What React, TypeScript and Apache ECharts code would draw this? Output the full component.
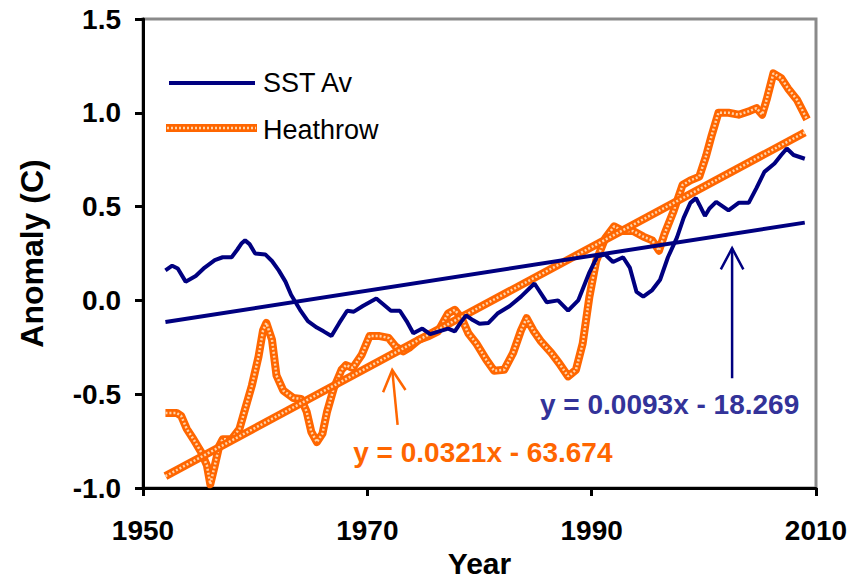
import React, { useEffect, useRef } from "react";
import * as echarts from "echarts";

// SST average anomaly (smoothed), decimal year / value in °C
const sstYears = [
  1952.0, 1952.6, 1953.1, 1953.8, 1954.7, 1955.5, 1956.4, 1957.1, 1957.9, 1958.4,
  1958.8, 1959.1, 1959.5, 1960.0, 1960.9, 1961.5, 1962.1, 1962.7, 1963.2, 1964.0,
  1964.7, 1965.5, 1966.1, 1966.8, 1967.5, 1968.2, 1968.8, 1969.6, 1970.8, 1971.6,
  1972.1, 1972.9, 1973.5, 1974.1, 1974.9, 1975.6, 1976.4, 1977.2, 1977.8, 1978.3,
  1978.8, 1979.4, 1980.0, 1980.8, 1981.6, 1982.7, 1983.7, 1984.9, 1986.0, 1987.0,
  1987.9, 1988.8, 1989.8, 1990.5, 1991.2, 1991.9, 1992.8, 1993.4, 1994.0, 1994.6,
  1995.4, 1996.1, 1996.8, 1997.6, 1998.2, 1998.8, 1999.3, 1999.6, 2000.1, 2000.5,
  2001.1, 2002.2, 2003.1, 2004.0, 2004.7, 2005.4, 2006.3, 2006.9, 2007.4, 2008.0,
  2009.0,
];
const sstValues = [
  0.16, 0.185, 0.17, 0.1, 0.13, 0.175, 0.215, 0.23, 0.23, 0.27,
  0.305, 0.32, 0.3, 0.25, 0.245, 0.21, 0.16, 0.1, 0.03, -0.05,
  -0.11, -0.145, -0.165, -0.19, -0.12, -0.055, -0.06, -0.03, 0.01, -0.03,
  -0.055, -0.055, -0.11, -0.175, -0.15, -0.18, -0.165, -0.15, -0.165, -0.12,
  -0.08, -0.105, -0.125, -0.12, -0.07, -0.03, 0.02, 0.09, -0.01, 0.0,
  -0.055, 0.0, 0.15, 0.235, 0.245, 0.205, 0.23, 0.175, 0.045, 0.02,
  0.055, 0.11, 0.23, 0.335, 0.44, 0.52, 0.545, 0.51, 0.45, 0.49,
  0.525, 0.48, 0.52, 0.52, 0.6, 0.685, 0.73, 0.775, 0.81, 0.775,
  0.755,
];

// Heathrow air temperature anomaly (smoothed)
const heathrowYears = [
  1952.0, 1953.0, 1953.4, 1953.9, 1954.5, 1955.2, 1955.7, 1956.0, 1956.4, 1956.8,
  1957.1, 1957.9, 1958.6, 1959.1, 1959.7, 1960.3, 1960.7, 1961.0, 1961.5, 1961.9,
  1962.5, 1963.4, 1964.1, 1964.6, 1965.0, 1965.5, 1966.0, 1966.4, 1967.0, 1967.7,
  1968.1, 1968.7, 1969.5, 1970.2, 1971.1, 1971.9, 1972.5, 1973.2, 1973.8, 1974.6,
  1975.5, 1976.3, 1977.2, 1977.8, 1978.4, 1979.0, 1979.7, 1980.6, 1981.3, 1982.2,
  1983.0, 1983.7, 1984.2, 1984.8, 1985.5, 1986.4, 1987.1, 1987.9, 1988.6, 1989.2,
  1989.8, 1990.4, 1991.2, 1992.0, 1992.8, 1993.7, 1994.6, 1995.4, 1996.0, 1996.5,
  1997.3, 1998.1, 1998.8, 1999.6, 2000.2, 2000.7, 2001.3, 2002.2, 2003.1, 2004.1,
  2004.7, 2005.2, 2005.6, 2006.2, 2006.9, 2007.5, 2008.3, 2009.2,
];
const heathrowValues = [
  -0.6, -0.6, -0.615, -0.685, -0.74, -0.81, -0.88, -0.98, -0.88, -0.775,
  -0.74, -0.74, -0.685, -0.58, -0.455, -0.3, -0.16, -0.12, -0.21, -0.4,
  -0.48, -0.52, -0.525, -0.595, -0.7, -0.755, -0.71, -0.596, -0.47, -0.37,
  -0.345, -0.36, -0.29, -0.19, -0.19, -0.2, -0.245, -0.272, -0.25, -0.21,
  -0.19, -0.165, -0.07, -0.05, -0.095, -0.175, -0.228, -0.316, -0.375, -0.37,
  -0.28, -0.16, -0.095, -0.16, -0.22, -0.28, -0.335, -0.405, -0.37, -0.23,
  0.02, 0.21, 0.33, 0.395, 0.37, 0.37, 0.34, 0.32, 0.265, 0.355,
  0.475, 0.615, 0.64, 0.66, 0.77, 0.88, 1.0, 1.0, 0.99, 1.01,
  1.025, 0.99, 1.07, 1.21, 1.185, 1.13, 1.07, 0.965,
];

// Linear trends (slope per year, intercept); labels show slope to 4 d.p.
const trendYears = [1952, 2009];
const sstTrend = { slope: 0.0093, intercept: -18.269 };
const heathrowTrend = { slope: 0.03214, intercept: -63.674 };

const xTicks = [1950, 1970, 1990, 2010];
const yTicks = [-1.0, -0.5, 0.0, 0.5, 1.0, 1.5];

const NAVY = "#000080";
const ORANGE = "#FF6600";
const ORANGE_LIGHT = "#FFD3A8";
const EQ_NAVY = "#333399";
const FONT = "'Liberation Sans', Arial, sans-serif";

const pairs = (xs: number[], ys: number[]) => xs.map((x, i) => [x, ys[i]]);
const trendLine = (t: { slope: number; intercept: number }) =>
  trendYears.map((x) => [x, t.slope * x + t.intercept]);
const equation = (t: { slope: number; intercept: number }) =>
  `y = ${t.slope.toFixed(4)}x ${t.intercept < 0 ? "-" : "+"} ${Math.abs(t.intercept).toFixed(3)}`;

// Thick orange line with a light dotted core
const texturedSeries = (name: string, data: number[][], z: number) => [
  {
    name,
    type: "line",
    data,
    showSymbol: false,
    z,
    lineStyle: { color: ORANGE, width: 8, join: "round" },
  },
  {
    name: name + "-core",
    type: "line",
    data,
    showSymbol: false,
    silent: true,
    z: z + 0.5,
    lineStyle: { color: ORANGE_LIGHT, width: 2.5, type: [2, 2] },
  },
];

export default function App() {
  const ref = useRef<HTMLDivElement>(null);

  useEffect(() => {
    if (!ref.current) return;
    const chart = echarts.init(ref.current, null, { renderer: "svg" });

    chart.setOption({
      animation: false,
      grid: {
        left: 143,
        right: 35,
        top: 19,
        bottom: 91,
        outerBoundsMode: "none",
        show: true,
        borderColor: "#8a8a8a",
        borderWidth: 3,
      },
      xAxis: {
        type: "value",
        min: xTicks[0],
        max: xTicks[xTicks.length - 1],
        interval: 20,
        name: "Year",
        nameLocation: "middle",
        nameGap: 58,
        nameTextStyle: { fontFamily: FONT, fontWeight: "bold", fontSize: 30, color: "#000" },
        axisLine: { onZero: false, lineStyle: { color: "#000", width: 3 } },
        axisTick: { length: 8, lineStyle: { color: "#000", width: 3 } },
        axisLabel: {
          margin: 28,
          fontFamily: FONT,
          fontWeight: "bold",
          fontSize: 28,
          color: "#000",
          formatter: (v: number) => String(v),
        },
        splitLine: { show: false },
      },
      yAxis: {
        type: "value",
        min: yTicks[0],
        max: yTicks[yTicks.length - 1],
        interval: 0.5,
        name: "Anomaly (C)",
        nameLocation: "middle",
        nameGap: 95,
        nameTextStyle: { fontFamily: FONT, fontWeight: "bold", fontSize: 32, color: "#000" },
        axisLine: { onZero: false, lineStyle: { color: "#000", width: 3 } },
        axisTick: { length: 8, lineStyle: { color: "#000", width: 3 } },
        axisLabel: {
          margin: 22,
          fontFamily: FONT,
          fontWeight: "bold",
          fontSize: 28,
          color: "#000",
          formatter: (v: number) => v.toFixed(1),
        },
        splitLine: { show: false },
      },
      series: [
        ...texturedSeries("Heathrow", pairs(heathrowYears, heathrowValues), 2),
        ...texturedSeries("Heathrow trend", trendLine(heathrowTrend), 3),
        {
          name: "SST Av",
          type: "line",
          data: pairs(sstYears, sstValues),
          showSymbol: false,
          z: 4,
          lineStyle: { color: NAVY, width: 4 },
        },
        {
          name: "SST trend",
          type: "line",
          data: trendLine(sstTrend),
          showSymbol: false,
          z: 5,
          lineStyle: { color: NAVY, width: 4 },
        },
      ],
    });

    const toPx = (p: number[]) => chart.convertToPixel({ gridIndex: 0 }, p) as number[];

    const arrow = (tail: number[], tip: number[], color: string) => {
      const a = toPx(tail);
      const b = toPx(tip);
      const dx = a[0] - b[0];
      const dy = a[1] - b[1];
      const len = Math.hypot(dx, dy);
      const ux = dx / len;
      const uy = dy / len;
      const ang = (28 * Math.PI) / 180;
      const hl = 24;
      const rot = (s: number) => [
        b[0] + hl * (ux * Math.cos(s * ang) - uy * Math.sin(s * ang)),
        b[1] + hl * (ux * Math.sin(s * ang) + uy * Math.cos(s * ang)),
      ];
      return [
        { type: "line", shape: { x1: a[0], y1: a[1], x2: b[0], y2: b[1] }, style: { stroke: color, lineWidth: 2.5 }, z: 20 },
        { type: "polyline", shape: { points: [rot(1), b, rot(-1)] }, style: { stroke: color, lineWidth: 2.5, fill: null }, z: 20 },
      ];
    };

    const eqText = (at: number[], text: string, color: string) => {
      const p = toPx(at);
      return {
        type: "text",
        x: p[0],
        y: p[1],
        z: 20,
        style: {
          text,
          fill: color,
          fontFamily: FONT,
          fontWeight: "bold",
          fontSize: 28,
          align: "center",
          verticalAlign: "middle",
        },
      };
    };

    const legendText = (x: number, y: number, text: string) => ({
      type: "text",
      x,
      y,
      z: 20,
      style: { text, fill: "#000", fontFamily: FONT, fontSize: 27, verticalAlign: "middle" },
    });

    chart.setOption({
      graphic: [
        // legend
        { type: "line", shape: { x1: 169, y1: 83, x2: 255, y2: 83 }, style: { stroke: NAVY, lineWidth: 4 }, z: 20 },
        legendText(263, 83, "SST Av"),
        { type: "rect", shape: { x: 166, y: 124, width: 91, height: 8 }, style: { fill: ORANGE }, z: 20 },
        { type: "line", shape: { x1: 167, y1: 128, x2: 256, y2: 128 }, style: { stroke: ORANGE_LIGHT, lineWidth: 2.5, lineDash: [2, 2] }, z: 21 },
        legendText(263, 130, "Heathrow"),
        // trend annotations
        ...arrow([1972.7, -0.664], [1972.22, -0.371], ORANGE),
        ...arrow([2002.52, -0.415], [2002.52, 0.278], NAVY),
        eqText([1980.3, -0.81], equation(heathrowTrend), ORANGE),
        eqText([1996.95, -0.557], equation(sstTrend), EQ_NAVY),
      ],
    });

    return () => chart.dispose();
  }, []);

  return (
    <div
      ref={ref}
      style={{ position: "absolute", left: 0, top: 0, width: 851, height: 579, background: "#fff" }}
    />
  );
}
